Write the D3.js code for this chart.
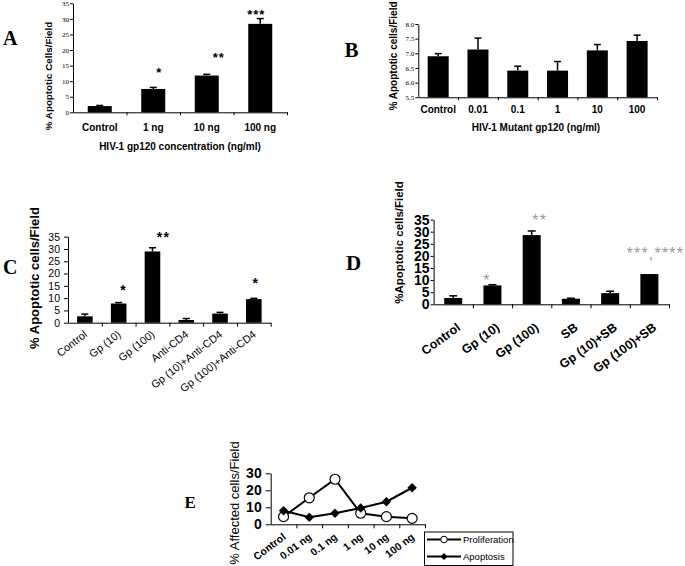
<!DOCTYPE html>
<html><head><meta charset="utf-8">
<script src="https://cdn.jsdelivr.net/npm/d3@7"></script>
<style>body{margin:0;background:#fff}svg{display:block}</style>
</head><body>
<svg id="c" width="685" height="566"></svg>
<script>
// ---------- DATA ----------
// Panel A
const catsA = ["Control", "1 ng", "10 ng", "100 ng"];
const valsA = [2.0, 7.5, 11.8, 28.4];
const errsA = [0.2, 0.5, 0.4, 1.7];
const starsA = ["", "*", "**", "***"];
const ticksA = [0, 5, 10, 15, 20, 25, 30, 35];
// Panel B
const catsB = ["Control", "0.01", "0.1", "1", "10", "100"];
const valsB = [6.9, 7.13, 6.41, 6.41, 7.1, 7.42];
const errsB = [0.09, 0.39, 0.15, 0.31, 0.2, 0.2];
const ticksB = [5.5, 6, 6.5, 7, 7.5, 8];
// Panel C
const catsC = ["Control", "Gp (10)", "Gp (100)", "Anti-CD4", "Gp (10)+Anti-CD4", "Gp (100)+Anti-CD4"];
const valsC = [2.6, 7.8, 29.0, 1.1, 3.7, 9.6];
const errsC = [0.9, 0.4, 1.5, 0.6, 0.5, 0.3];
const starsC = ["", "*", "**", "", "", "*"];
const ticksC = [0, 5, 10, 15, 20, 25, 30, 35];
// Panel D
const catsD = ["Control", "Gp (10)", "Gp (100)", "SB", "Gp (10)+SB", "Gp (100)+SB"];
const valsD = [2.6, 7.8, 28.6, 2.3, 4.6, 12.5];
const errsD = [0.9, 0.3, 1.7, 0.2, 0.8, 0];
const starsD = ["", "*", "**", "", "", "***,****"];
const ticksD = [0, 5, 10, 15, 20, 25, 30, 35];
// Panel E
const catsE = ["Control", "0.01 ng", "0.1 ng", "1 ng", "10 ng", "100 ng"];
const proliferationE = [4.5, 15.6, 26.5, 6.5, 4.5, 3.5];
const apoptosisE = [8.0, 4.1, 6.5, 9.6, 13.3, 21.5];
const ticksE = [0, 10, 20, 30];
const seriesNamesE = ["Proliferation", "Apoptosis"];

// ---------- DRAWING ----------
const svg = d3.select("#c");
const SANS = "'Liberation Sans', Arial, sans-serif";
const SERIF = "'Liberation Serif', 'Times New Roman', serif";

function frame(o) {
  const n = o.cats.length;
  const x = d3.scaleBand().domain(o.cats).range([o.x0, o.x1]);
  const y = d3.scaleLinear().domain(o.domain).range([o.yBot, o.yTop]);
  const g = svg.append("g");
  const ya = d3.axisLeft(y).tickValues(o.ticks).tickSize(o.tickLen).tickSizeOuter(0).tickPadding(o.tickPad);
  const gy = g.append("g").attr("transform", `translate(${o.x0},0)`).call(ya);
  gy.attr("font-family", null).attr("font-size", null);
  gy.select(".domain").attr("stroke", "#000");
  gy.selectAll(".tick line").attr("stroke", "#000");
  gy.selectAll(".tick text").attr("font-family", o.tickFont).attr("font-size", o.tickFs)
    .attr("font-weight", o.tickWeight || "normal").attr("fill", "#000");
  const xb = d3.scaleLinear().domain([0, n]).range([o.x0, o.x1]);
  const xa = d3.axisBottom(xb).tickValues(d3.range(1, n + 1)).tickFormat("").tickSize(o.xTickLen).tickSizeOuter(0);
  const gx = g.append("g").attr("transform", `translate(0,${o.yBot})`).call(xa);
  gx.select(".domain").attr("stroke", "#000");
  gx.selectAll(".tick line").attr("stroke", "#000");
  // category labels
  const lab = g.append("g").selectAll("text").data(o.cats).join("text")
    .text(d => d).attr("font-family", SANS).attr("font-size", o.catFs)
    .attr("font-weight", o.catWeight || "bold").attr("fill", "#000");
  if (o.catAngle) {
    lab.attr("text-anchor", "end")
      .attr("transform", d => `translate(${x(d) + x.bandwidth() / 2 + o.catDx},${o.yBot + o.catDy}) rotate(${-o.catAngle})`);
  } else {
    lab.attr("text-anchor", "middle").attr("x", d => x(d) + x.bandwidth() / 2).attr("y", o.catY);
  }
  // y title
  g.append("text").text(o.yTitle)
    .attr("transform", `translate(${o.yTitleX},${o.yTitleY}) rotate(-90)`)
    .attr("text-anchor", "middle").attr("font-family", SANS).attr("font-size", o.yTitleFs)
    .attr("font-weight", o.yTitleWeight || "bold").attr("fill", "#000");
  // panel letter
  svg.append("text").text(o.letter).attr("x", o.letterX).attr("y", o.letterY)
    .attr("font-family", SERIF).attr("font-weight", "bold").attr("font-size", o.letterFs).attr("fill", "#000");
  return {g, x, y};
}

function bars(o) {
  const {g, x, y} = frame(o);
  const bw = o.barW;
  const data = o.cats.map((c, i) => ({c, v: o.vals[i], e: o.errs[i], s: o.stars ? o.stars[i] : ""}));
  const base = y(o.domain[0]);
  g.append("g").selectAll("rect").data(data).join("rect")
    .attr("x", d => x(d.c) + (x.bandwidth() - bw) / 2).attr("width", bw)
    .attr("y", d => y(d.v)).attr("height", d => base - y(d.v)).attr("fill", "#000");
  const eb = g.append("g").attr("stroke", "#000").attr("stroke-width", 1.5);
  data.filter(d => d.e > 0).forEach(d => {
    const cx = x(d.c) + x.bandwidth() / 2;
    eb.append("line").attr("x1", cx).attr("x2", cx).attr("y1", y(d.v)).attr("y2", y(d.v + d.e));
    eb.append("line").attr("x1", cx - o.capW / 2).attr("x2", cx + o.capW / 2).attr("y1", y(d.v + d.e)).attr("y2", y(d.v + d.e));
  });
  // significance stars
  data.forEach((d, i) => {
    if (!d.s) return;
    const p = o.starPos[i];
    const cx = x(d.c) + x.bandwidth() / 2 + p[0];
    g.append("text").text(d.s).attr("x", cx).attr("y", p[1] + 0.58 * o.starFs)
      .attr("text-anchor", "middle").attr("font-family", SANS).attr("font-size", o.starFs)
      .attr("font-weight", o.starWeight || "bold").attr("letter-spacing", o.starLs || 0)
      .attr("fill", o.starColor || "#000");
  });
  return {g, x, y};
}

// Panel A
const A = bars({
  cats: catsA, vals: valsA, errs: errsA, stars: starsA, ticks: ticksA, domain: [0, 35],
  x0: 73, x1: 287, yTop: 3.3, yBot: 112.3, tickLen: 3, tickPad: 1, tickFont: SERIF, tickFs: 7,
  xTickLen: 3, catFs: 10, catY: 131, barW: 24, capW: 7,
  yTitle: "% Apoptotic Cells/Field", yTitleX: 51.5, yTitleY: 76, yTitleFs: 9.8,
  letter: "A", letterX: 3, letterY: 44.5, letterFs: 20,
  starFs: 13, starLs: 1, starPos: [null, [6, 69], [12, 54.3], [-4, 11.7]]
});
A.g.append("text").text("HIV-1 gp120 concentration (ng/ml)").attr("x", 180).attr("y", 150)
  .attr("text-anchor", "middle").attr("font-family", SANS).attr("font-size", 10).attr("font-weight", "bold");

// Panel B
const B = bars({
  cats: catsB, vals: valsB, errs: errsB, ticks: ticksB, domain: [5.5, 8],
  x0: 418.3, x1: 657, yTop: 24, yBot: 97.3, tickLen: 3, tickPad: 1, tickFont: SERIF, tickFs: 7,
  xTickLen: 3, catFs: 10, catY: 113, barW: 21, capW: 7,
  yTitle: "% Apoptotic cells/Field", yTitleX: 396.5, yTitleY: 56, yTitleFs: 10,
  letter: "B", letterX: 344.5, letterY: 56.5, letterFs: 21
});
B.g.append("text").text("HIV-1 Mutant gp120 (ng/ml)").attr("x", 536).attr("y", 131)
  .attr("text-anchor", "middle").attr("font-family", SANS).attr("font-size", 10).attr("font-weight", "bold");

// Panel C
bars({
  cats: catsC, vals: valsC, errs: errsC, stars: starsC, ticks: ticksC, domain: [0, 35],
  x0: 68, x1: 270.7, yTop: 236.7, yBot: 322.7, tickLen: 4, tickPad: 4, tickFont: SANS, tickFs: 10.5,
  xTickLen: 4, catFs: 10.8, catWeight: "normal", catAngle: 38, catDx: 3, catDy: 13, barW: 15.6, capW: 7,
  yTitle: "% Apoptotic cells/Field", yTitleX: 38.5, yTitleY: 278, yTitleFs: 13,
  letter: "C", letterX: 3, letterY: 273.5, letterFs: 20,
  starFs: 14, starLs: 1.3, starPos: [null, [5, 286.7], [11, 234.3], null, null, [2, 280]]
});

// Panel D
bars({
  cats: catsD, vals: valsD, errs: errsD, stars: starsD, ticks: ticksD, domain: [0, 35],
  x0: 433.6, x1: 669, yTop: 219.6, yBot: 304.3, tickLen: 3, tickPad: 1, tickFont: SANS, tickFs: 14, tickWeight: "bold",
  xTickLen: 4, catFs: 12.5, catAngle: 36, catDx: 8, catDy: 25, barW: 18, capW: 8,
  yTitle: "%Apoptotic cells/Field", yTitleX: 403, yTitleY: 242.5, yTitleFs: 11.5,
  letter: "D", letterX: 346, letterY: 270, letterFs: 21,
  starFs: 16, starWeight: "normal", starLs: 1.2, starColor: "#9a9a9a",
  starPos: [null, [-5.5, 277], [8, 216.7], null, null, [6, 250]]
});

// Panel E
const E = frame({
  cats: catsE, ticks: ticksE, domain: [0, 30],
  x0: 270.7, x1: 425, yTop: 473.3, yBot: 524.3, tickLen: 5, tickPad: 4, tickFont: SANS, tickFs: 14, tickWeight: "bold",
  xTickLen: 4, catFs: 10.5, catAngle: 37, catDx: 3, catDy: 14,
  yTitle: "% Affected cells/Field", yTitleX: 239, yTitleY: 503, yTitleFs: 13, yTitleWeight: "normal",
  letter: "E", letterX: 184.5, letterY: 507.5, letterFs: 17
});
{
  const {g, x, y} = E;
  const cx = c => x(c) + x.bandwidth() / 2;
  const line = d3.line().x(d => cx(d[0])).y(d => y(d[1]));
  const pro = catsE.map((c, i) => [c, proliferationE[i]]);
  const apo = catsE.map((c, i) => [c, apoptosisE[i]]);
  g.append("path").attr("d", line(pro)).attr("fill", "none").attr("stroke", "#000").attr("stroke-width", 2);
  g.append("g").selectAll("circle").data(pro).join("circle")
    .attr("cx", d => cx(d[0])).attr("cy", d => y(d[1])).attr("r", 5)
    .attr("fill", "#fff").attr("stroke", "#000").attr("stroke-width", 1.2);
  g.append("path").attr("d", line(apo)).attr("fill", "none").attr("stroke", "#000").attr("stroke-width", 2);
  const dia = d3.symbol(d3.symbolSquare).size(44)();
  g.append("g").selectAll("path").data(apo).join("path")
    .attr("d", dia).attr("transform", d => `translate(${cx(d[0])},${y(d[1])}) rotate(45)`).attr("fill", "#000");
  // legend
  const lg = svg.append("g");
  lg.append("rect").attr("x", 424.5).attr("y", 532).attr("width", 88.5).attr("height", 33.5)
    .attr("fill", "#fff").attr("stroke", "#000").attr("stroke-width", 1);
  seriesNamesE.forEach((name, i) => {
    const yy = 539.5 + i * 17;
    lg.append("line").attr("x1", 427).attr("x2", 461).attr("y1", yy).attr("y2", yy)
      .attr("stroke", "#000").attr("stroke-width", 2);
    if (i === 0) lg.append("circle").attr("cx", 444).attr("cy", yy).attr("r", 3.3)
      .attr("fill", "#fff").attr("stroke", "#000").attr("stroke-width", 1);
    else lg.append("path").attr("d", d3.symbol(d3.symbolSquare).size(26)())
      .attr("transform", `translate(444,${yy}) rotate(45)`).attr("fill", "#000");
    lg.append("text").text(name).attr("x", 463).attr("y", yy + 3.4)
      .attr("font-family", SANS).attr("font-size", 9.5).attr("fill", "#000");
  });
}
</script>
</body></html>
